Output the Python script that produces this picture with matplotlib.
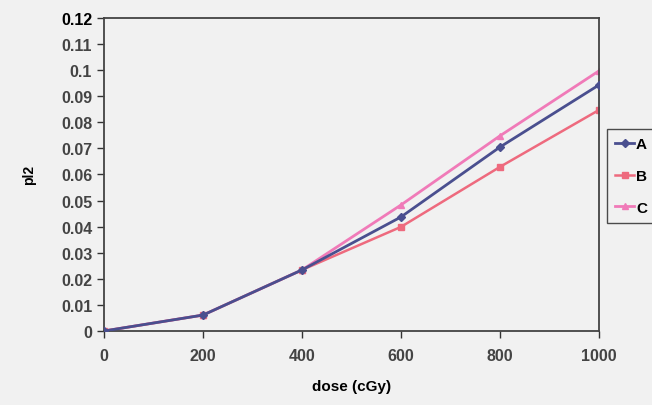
import matplotlib
matplotlib.use("Agg")
import matplotlib.pyplot as plt
import numpy as np

# dose values and the three series
dose = [0, 200, 400, 600, 800, 1000]
series_a = [0, 0.0061, 0.0234, 0.0437, 0.0705, 0.0943]
series_b = [0, 0.0061, 0.0234, 0.0399, 0.0629, 0.0847]
series_c = [0, 0.0061, 0.0234, 0.0483, 0.0748, 0.0997]
labels = ["A", "B", "C"]
y_ticks = [i / 100 for i in range(13)]
x_ticks = [0, 200, 400, 600, 800, 1000]

plt.rcParams['font.family'] = ['Liberation Sans', 'DejaVu Sans']

bg = "#f1f1f1"
fig = plt.figure(figsize=(6.52, 4.06), dpi=100, facecolor=bg)
ax = fig.add_axes([0.1595, 0.1823, 0.759, 0.7709], facecolor=bg)

ax.plot(dose, series_c, color="#f07ab8", lw=2.0, marker="^", ms=4, label=labels[2], zorder=2)
ax.plot(dose, series_b, color="#ee6a7e", lw=1.8, marker="s", ms=4, label=labels[1], zorder=2)
ax.plot(dose, series_a, color="#4a4f8f", lw=2.0, marker="D", ms=4, label=labels[0], zorder=3)

ax.set_xlim(0, 1000)
ax.set_ylim(0, 0.12)
ax.set_xticks(x_ticks)
ax.set_yticks(y_ticks)
ax.set_xticklabels([str(x) for x in x_ticks])
ax.set_yticklabels(["%g" % y for y in y_ticks])
ax.tick_params(direction="out", length=5, width=1, colors="#333333", labelsize=11.5)
ax.tick_params(axis="x", pad=7)
for lab in ax.get_yticklabels() + ax.get_xticklabels():
    lab.set_fontweight("bold")
    lab.set_color("#444444")
ax.get_yticklabels()[-1].set_color("black")
for s in ax.spines.values():
    s.set_color("#444444")
    s.set_linewidth(1.3)

ax.set_xlabel("dose (cGy)", fontsize=11, fontweight="bold", labelpad=12)
ax.set_ylabel("pl2", fontsize=10, fontweight="bold", labelpad=18)

handles, labs = ax.get_legend_handles_labels()
order = [2, 1, 0]
leg = fig.legend([handles[i] for i in order], [labs[i] for i in order],
                 loc="upper left", bbox_to_anchor=(607 / 652, 1 - 130 / 406),
                 frameon=True, fancybox=False, edgecolor="#222222",
                 facecolor=bg, handlelength=1.2,
                 handletextpad=0.15, borderpad=0.55, borderaxespad=0,
                 labelspacing=1.15,
                 prop={"weight": "bold", "size": 11})

fig.savefig("out.png", dpi=100, facecolor=bg)
